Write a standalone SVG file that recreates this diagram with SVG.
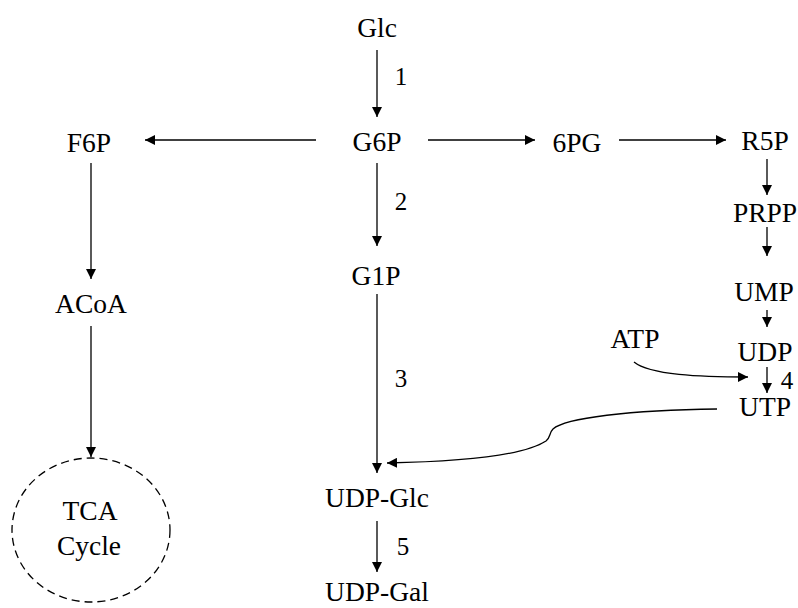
<svg xmlns="http://www.w3.org/2000/svg" width="798" height="608" viewBox="0 0 798 608">
<style>
text{font-family:"Liberation Serif","Times New Roman",serif;font-size:27.5px;fill:#000;text-anchor:middle}
.lbl{font-size:25px}
.c{fill:none;stroke:#000;stroke-width:1.3}
</style>
<defs>
<marker id="ah" markerUnits="userSpaceOnUse" markerWidth="11" markerHeight="10" refX="10" refY="5" orient="auto">
<path d="M0,0 L10,5 L0,10 z" fill="#000"/>
</marker>
</defs>
<rect width="798" height="608" fill="#fff"/>
<g id="connectors">
<line class="c" x1="377" y1="50" x2="377" y2="117" marker-end="url(#ah)"/>
<line class="c" x1="316" y1="140" x2="145" y2="140" marker-end="url(#ah)"/>
<line class="c" x1="428" y1="140" x2="535" y2="140" marker-end="url(#ah)"/>
<line class="c" x1="619" y1="140" x2="726" y2="140" marker-end="url(#ah)"/>
<line class="c" x1="377" y1="163" x2="377" y2="246" marker-end="url(#ah)"/>
<line class="c" x1="377" y1="294" x2="377" y2="473" marker-end="url(#ah)"/>
<line class="c" x1="377" y1="521" x2="377" y2="572" marker-end="url(#ah)"/>
<line class="c" x1="91" y1="163" x2="91" y2="279" marker-end="url(#ah)"/>
<line class="c" x1="91" y1="326" x2="91" y2="457" marker-end="url(#ah)"/>
<line class="c" x1="767" y1="159" x2="767" y2="195" marker-end="url(#ah)"/>
<line class="c" x1="767" y1="227" x2="767" y2="256" marker-end="url(#ah)"/>
<line class="c" x1="767" y1="310" x2="767" y2="327" marker-end="url(#ah)"/>
<line class="c" x1="767" y1="367" x2="767" y2="393" marker-end="url(#ah)"/>
<path class="c" d="M634,362 C650,375 700,377 748,377" marker-end="url(#ah)"/>
<path class="c" d="M717,409 C630,410 565,418 553,429 C549,433 551,437 546,441 C520,458 440,462 387,463" marker-end="url(#ah)"/>
</g>
<g id="glc"><text x="377" y="37">Glc</text></g>
<g id="g6p"><text x="377" y="151">G6P</text></g>
<g id="f6p"><text x="89" y="152">F6P</text></g>
<g id="pg6"><text x="577" y="152">6PG</text></g>
<g id="r5p"><text x="765" y="150">R5P</text></g>
<g id="prpp"><text x="765" y="222">PRPP</text></g>
<g id="ump"><text x="764" y="301">UMP</text></g>
<g id="udp"><text x="765" y="361">UDP</text></g>
<g id="utp"><text x="765" y="416">UTP</text></g>
<g id="atp"><text x="635" y="348">ATP</text></g>
<g id="g1p"><text x="376" y="285">G1P</text></g>
<g id="udpglc"><text x="377" y="507">UDP-Glc</text></g>
<g id="udpgal"><text x="377" y="601">UDP-Gal</text></g>
<g id="acoa"><text x="91" y="313">ACoA</text></g>
<g id="tca">
<ellipse cx="91" cy="530" rx="79" ry="72" fill="none" stroke="#000" stroke-width="1.3" stroke-dasharray="8,5"/>
<text x="90" y="520">TCA</text>
<text x="89" y="555">Cycle</text>
</g>
<g id="labels">
<text class="lbl" x="401" y="85">1</text>
<text class="lbl" x="401" y="210">2</text>
<text class="lbl" x="401" y="387">3</text>
<text class="lbl" x="787" y="389">4</text>
<text class="lbl" x="403" y="555">5</text>
</g>
</svg>
